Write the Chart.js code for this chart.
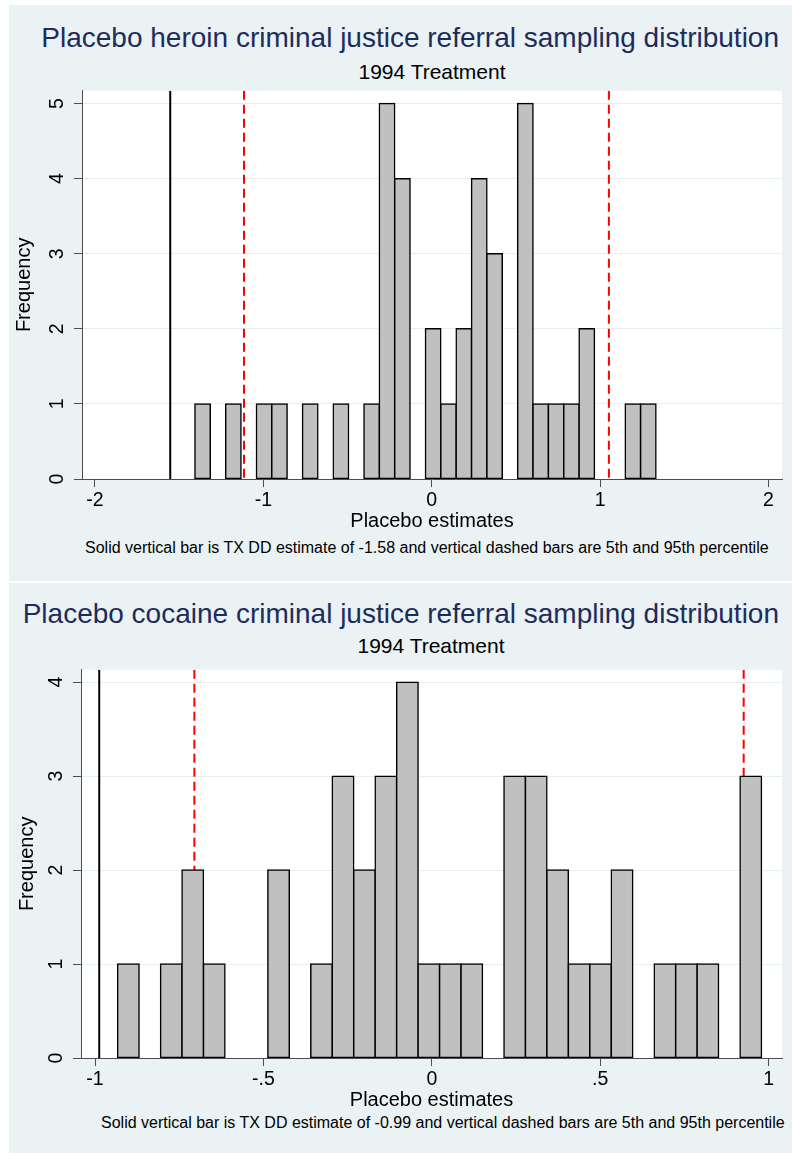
<!DOCTYPE html>
<html>
<head>
<meta charset="utf-8">
<title>Placebo sampling distributions</title>
<script src="https://cdn.jsdelivr.net/npm/chart.js@4.4.1/dist/chart.umd.min.js"></script>
<style>
    body {
        margin: 0;
        width: 792px;
        height: 1153px;
        position: relative;
        overflow: hidden;
        background: #fff;
        font-family: "Liberation Sans", Arial, sans-serif;
    }
    .panel { position: absolute; left: 9px; width: 783px; background: #eaf2f3; }
    .txt { position: absolute; white-space: nowrap; line-height: 1; }
    .title { font-size: 28px; color: #1e2c5c; right: 13px; }
    .sub { font-size: 21px; color: #000; width: 400px; text-align: center; }
    .note { font-size: 16px; color: #000; }
    canvas { position: absolute; left: 0; }
</style>
</head>
<body>
<div class="panel" style="top:5px;height:576px"></div>
<div class="panel" style="top:583px;height:570px"></div>

<div class="txt title" style="top:24px">Placebo heroin criminal justice referral sampling distribution</div>
<div class="txt sub" style="top:61px;left:232px">1994 Treatment</div>
<canvas id="heroinChart" width="792" height="465" style="top:68px"></canvas>
<div class="txt note" style="top:540px;left:85px">Solid vertical bar is TX DD estimate of -1.58 and vertical dashed bars are 5th and 95th percentile</div>

<div class="txt title" style="top:600px">Placebo cocaine criminal justice referral sampling distribution</div>
<div class="txt sub" style="top:635px;left:231px">1994 Treatment</div>
<canvas id="cocaineChart" width="792" height="465" style="top:647px"></canvas>
<div class="txt note" style="top:1115px;left:101px">Solid vertical bar is TX DD estimate of -0.99 and vertical dashed bars are 5th and 95th percentile</div>

<script>
// Heroin histogram: 30 bins, counts
const heroinCounts = [1, 0, 1, 0, 1, 1, 0, 1, 0, 1,
                      0, 1, 5, 4, 0, 2, 1, 2, 4, 3,
                      0, 5, 1, 1, 1, 2, 0, 0, 1, 1];
const heroinBinStart = -1.4064;
const heroinBinWidth = 0.09126;
const heroinTx = -1.553;
const heroinP5 = -1.115;
const heroinP95 = 1.052;
const heroinXTicks = [-2, -1, 0, 1, 2];
const heroinXLabels = ['-2', '-1', '0', '1', '2'];
const heroinYTicks = [0, 1, 2, 3, 4, 5];
const heroinYLabels = ['0', '1', '2', '3', '4', '5'];

// Cocaine histogram
const cocaineCounts = [1, 0, 1, 2, 1, 0, 0, 2, 0, 1,
                       3, 2, 3, 4, 1, 1, 1, 0, 3, 3,
                       2, 1, 1, 2, 0, 1, 1, 1, 0, 3];
const cocaineBinStart = -0.9329;
const cocaineBinWidth = 0.06373;
const cocaineTx = -0.9875;
const cocaineP5 = -0.705;
const cocaineP95 = 0.926;
const cocaineXTicks = [-1, -0.5, 0, 0.5, 1];
const cocaineXLabels = ['-1', '-.5', '0', '.5', '1'];
const cocaineYTicks = [0, 1, 2, 3, 4];
const cocaineYLabels = ['0', '1', '2', '3', '4'];

Chart.defaults.font.family = '"Liberation Sans", Arial, sans-serif';
Chart.defaults.color = '#000';

// white plot region on the tinted panel
const plotBackground = {
    id: 'plotBackground',
    beforeDraw(chart) {
        const { ctx, chartArea } = chart;
        ctx.save();
        ctx.fillStyle = '#fff';
        ctx.fillRect(chartArea.left, chartArea.top, chartArea.right - chartArea.left, chartArea.bottom - chartArea.top);
        ctx.restore();
    }
};

function vline(x, yMax, color, dash) {
    return {
        type: 'line',
        data: [{ x: x, y: yMax }, { x: x, y: 0 }],
        borderColor: color,
        borderWidth: 2,
        borderDash: dash,
        pointRadius: 0,
        fill: false,
        order: 2
    };
}

function histogram(id, cfg) {
    const bars = cfg.counts.map(function(c, i) {
        return { x: cfg.binStart + (i + 0.5) * cfg.binWidth, y: c === 0 ? null : c };
    });

    return new Chart(document.getElementById(id), {
        type: 'bar',
        data: {
            datasets: [
                {
                    type: 'bar',
                    data: bars,
                    backgroundColor: '#c0c0c0',
                    borderColor: '#000',
                    borderWidth: 1.5,
                    inflateAmount: 0.75,
                    borderSkipped: false,
                    barPercentage: 1,
                    categoryPercentage: 1,
                    order: 1
                },
                vline(cfg.tx, cfg.yMax, '#000', []),
                vline(cfg.p5, cfg.yMax, '#ff0000', [9, 5]),
                vline(cfg.p95, cfg.yMax, '#ff0000', [9, 5])
            ]
        },
        options: {
            responsive: false,
            animation: false,
            layout: { padding: { top: 20, right: 10, bottom: 0, left: 0 } },
            plugins: { legend: { display: false }, tooltip: { enabled: false } },
            scales: {
                x: {
                    type: 'linear',
                    min: cfg.xMin,
                    max: cfg.xMax,
                    offset: false,
                    afterBuildTicks: function(s) { s.ticks = cfg.xTicks.map(v => ({ value: v })); },
                    afterFit: function(s) { s.height = 54; },
                    grid: { drawOnChartArea: false, drawTicks: true, tickLength: 8, tickColor: '#4d4d4d', offset: false },
                    border: { color: '#4d4d4d', width: 1 },
                    ticks: {
                        autoSkip: false,
                        maxRotation: 0,
                        padding: 2,
                        font: { size: 19.5 },
                        callback: v => cfg.xLabels[cfg.xTicks.indexOf(v)]
                    },
                    title: { display: true, text: 'Placebo estimates', font: { size: 20 }, padding: { top: 0, bottom: 0 } }
                },
                y: {
                    min: 0,
                    max: cfg.yMax,
                    afterBuildTicks: function(s) { s.ticks = cfg.yTicks.map(v => ({ value: v })); },
                    afterFit: function(s) { s.width = cfg.yAxisWidth; },
                    grid: { color: '#e6eef0', tickColor: '#4d4d4d', tickLength: 8 },
                    border: { color: '#4d4d4d', width: 1 },
                    ticks: {
                        minRotation: 90,
                        maxRotation: 90,
                        crossAlign: 'center',
                        padding: 11,
                        font: { size: 19.5 },
                        callback: v => cfg.yLabels[cfg.yTicks.indexOf(v)]
                    },
                    title: { display: true, text: 'Frequency', font: { size: 20 }, padding: { top: cfg.yTitlePad, bottom: 0 } }
                }
            }
        },
        plugins: [plotBackground]
    });
}

histogram('heroinChart', {
    counts: heroinCounts, binStart: heroinBinStart, binWidth: heroinBinWidth,
    tx: heroinTx, p5: heroinP5, p95: heroinP95,
    xMin: -2.077, xMax: 2.08, yMax: 5.172,
    xTicks: heroinXTicks, xLabels: heroinXLabels,
    yTicks: heroinYTicks, yLabels: heroinYLabels,
    yAxisWidth: 82, yTitlePad: 12
});

histogram('cocaineChart', {
    counts: cocaineCounts, binStart: cocaineBinStart, binWidth: cocaineBinWidth,
    tx: cocaineTx, p5: cocaineP5, p95: cocaineP95,
    xMin: -1.0416, xMax: 1.0398, yMax: 4.133,
    xTicks: cocaineXTicks, xLabels: cocaineXLabels,
    yTicks: cocaineYTicks, yLabels: cocaineYLabels,
    yAxisWidth: 81, yTitlePad: 15
});
</script>
</body>
</html>
